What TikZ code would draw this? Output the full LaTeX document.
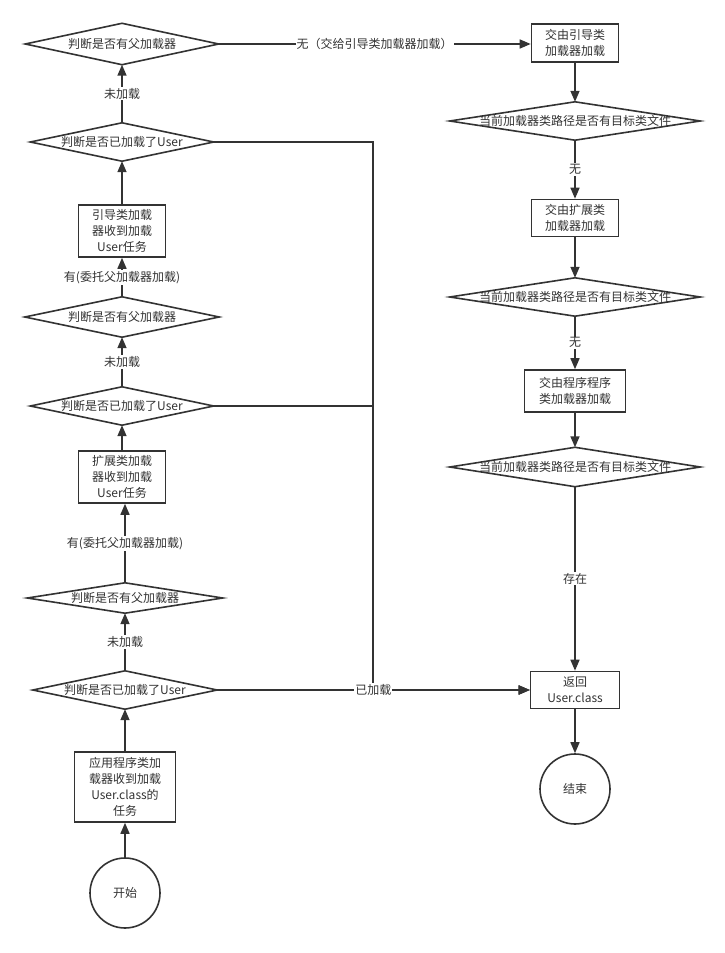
\documentclass[tikz,border=0pt]{standalone}
\usepackage{fontspec}
\setmainfont{Noto Sans CJK SC}
\usetikzlibrary{arrows.meta}
\definecolor{ink}{HTML}{333333}
\begin{document}
\begin{tikzpicture}[x=1pt,y=-1pt,
  every node/.style={font=\fontsize{12}{16}\selectfont, text=ink},
  box/.style={draw=ink, line width=1.6pt, align=center, inner sep=0pt},
  dia/.style={inner sep=0pt},
  lbl/.style={fill=white, inner sep=1pt},
  conn/.style={draw=ink, line width=1.5pt, -{Triangle[length=11pt,width=9pt]}},
  circ/.style={circle, draw=ink, line width=1.6pt, minimum size=70pt, inner sep=0pt},
  dline/.style={draw=ink, line width=1.6pt, line join=miter}]
\useasboundingbox[fill=white] (0,0) rectangle (724,953);

% left column
\node[dia, minimum width=193pt, minimum height=41pt] (d1) at (122,44) {判断是否有父加载器};
\node[dia, minimum width=183pt, minimum height=38pt] (d2) at (122,142) {判断是否已加载了User};
\node[box, minimum width=87pt, minimum height=52pt] (boot) at (122,231) {引导类加载\\器收到加载\\User任务};
\node[dia, minimum width=194pt, minimum height=40pt] (d3) at (122,317) {判断是否有父加载器};
\node[dia, minimum width=183pt, minimum height=38pt] (d4) at (122,406) {判断是否已加载了User};
\node[box, minimum width=87pt, minimum height=52pt] (ext) at (122,477) {扩展类加载\\器收到加载\\User任务};
\node[dia, minimum width=195pt, minimum height=30pt] (d5) at (125,598) {判断是否有父加载器};
\node[dia, minimum width=184pt, minimum height=38pt] (d6) at (125,690) {判断是否已加载了User};
\node[box, minimum width=101pt, minimum height=70pt] (app) at (125,787) {应用程序类加\\载器收到加载\\User.class的\\任务};
\node[circ] (start) at (125,893) {开始};

% right column
\node[box, minimum width=87pt, minimum height=38pt] (r1) at (575,43) {交由引导类\\加载器加载};
\node[dia, minimum width=250pt, minimum height=38pt] (q1) at (575,121) {当前加载器类路径是否有目标类文件};
\node[box, minimum width=87pt, minimum height=37pt] (r2) at (575,218) {交由扩展类\\加载器加载};
\node[dia, minimum width=250pt, minimum height=38pt] (q2) at (575,297) {当前加载器类路径是否有目标类文件};
\node[box, minimum width=101pt, minimum height=42pt] (r3) at (575,391) {交由程序程序\\类加载器加载};
\node[dia, minimum width=250pt, minimum height=39pt] (q3) at (575,467) {当前加载器类路径是否有目标类文件};
\node[box, minimum width=89pt, minimum height=37pt] (ret) at (575,690) {返回\\User.class};
\node[circ] (stop) at (575,789) {结束};

% diamond outlines
\foreach \n in {d1,d2,d3,d4,d5,d6,q1,q2,q3}
  \draw[dline] (\n.north) -- (\n.east) -- (\n.south) -- (\n.west) -- cycle;

\coordinate (j) at (373,690);

% left connectors (upwards)
\draw[conn] (start.north) -- (app.south);
\draw[conn] (app.north) -- (d6.south);
\draw[conn] (d6.north) -- node[lbl]{未加载} (d5.south);
\draw[conn] (d5.north) -- node[lbl]{有(委托父加载器加载)} (d5.north |- ext.south);
\draw[conn] (ext.north) -- (d4.south);
\draw[conn] (d4.north) -- node[lbl]{未加载} (d3.south);
\draw[conn] (d3.north) -- node[lbl]{有(委托父加载器加载)} (boot.south);
\draw[conn] (boot.north) -- (d2.south);
\draw[conn] (d2.north) -- node[lbl]{未加载} (d1.south);
\draw[conn] (d1.east) -- node[lbl]{无（交给引导类加载器加载）} (d1.east -| r1.west);

% right connectors (downwards)
\draw[conn] (r1.south) -- (q1.north);
\draw[conn] (q1.south) -- node[lbl]{无} (r2.north);
\draw[conn] (r2.south) -- (q2.north);
\draw[conn] (q2.south) -- node[lbl]{无} (r3.north);
\draw[conn] (r3.south) -- (q3.north);
\draw[conn] (q3.south) -- node[lbl]{存在} (ret.north);
\draw[conn] (ret.south) -- (stop.north);

% already-loaded branches
\draw[conn] (d2.east) -| (j) -- (ret.west);
\draw[conn] (d4.east) -| (j) -- (ret.west);
\draw[conn] (d6.east) -- node[lbl]{已加载} (ret.west);
\end{tikzpicture}
\end{document}
